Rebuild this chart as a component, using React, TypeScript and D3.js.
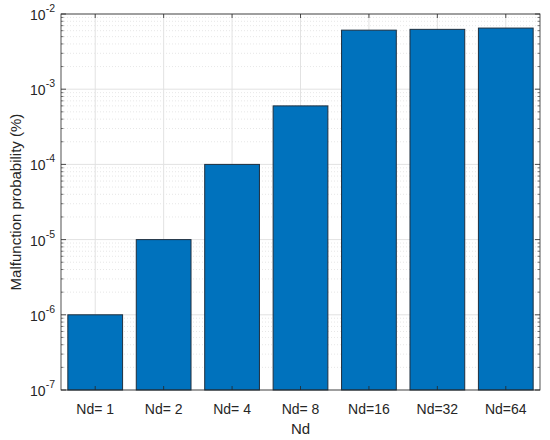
import React from "react";
import * as d3 from "d3";

const categories = ["Nd= 1", "Nd= 2", "Nd= 4", "Nd= 8", "Nd=16", "Nd=32", "Nd=64"];
const values = [1e-6, 1e-5, 1e-4, 6e-4, 6.1e-3, 6.25e-3, 6.5e-3];
const yDecades = [-7, -6, -5, -4, -3, -2];
const yLabel = "Malfunction probability (%)";
const xLabel = "Nd";

const W = 550, H = 440;
const M = { left: 61, top: 14, right: 10, bottom: 50 };
const x0 = M.left, x1 = W - M.right, y0 = H - M.bottom, y1 = M.top;

export default function App() {
  const x = d3.scaleBand<string>().domain(categories).range([x0, x1]).paddingInner(0).paddingOuter(0);
  const y = d3.scaleLog().domain([1e-7, 1e-2]).range([y0, y1]);
  const bw = x.bandwidth() * 0.8;
  const minor: number[] = [];
  for (let d = -7; d < -2; d++) for (let k = 2; k <= 9; k++) minor.push(k * Math.pow(10, d));
  const font = "'Liberation Sans', Arial, Helvetica, sans-serif";
  const axisColor = "#262626";
  return (
    <svg width={W} height={H} style={{ position: "absolute", left: 0, top: 0, background: "#fff" }} fontFamily={font}>
      <rect x={x0} y={y1} width={x1 - x0} height={y0 - y1} fill="#fff" />
      {minor.map((v, i) => (
        <line key={"mg" + i} x1={x0} x2={x1} y1={y(v)} y2={y(v)} stroke="#dcdcdc" strokeWidth={0.7} strokeDasharray="1,2" />
      ))}
      {yDecades.map((d) => (
        <line key={"yg" + d} x1={x0} x2={x1} y1={y(Math.pow(10, d))} y2={y(Math.pow(10, d))} stroke="#e2e2e2" strokeWidth={1} />
      ))}
      {categories.map((c) => {
        const cx = (x(c) as number) + x.bandwidth() / 2;
        return <line key={"xg" + c} x1={cx} x2={cx} y1={y0} y2={y1} stroke="#e2e2e2" strokeWidth={1} />;
      })}
      {categories.map((c, i) => {
        const cx = (x(c) as number) + x.bandwidth() / 2;
        return (
          <rect key={"b" + c} x={cx - bw / 2} y={y(values[i])} width={bw} height={y0 - y(values[i])} fill="#0072BD" stroke="#1f2f3f" strokeWidth={1} />
        );
      })}
      {categories.map((c) => {
        const cx = (x(c) as number) + x.bandwidth() / 2;
        return (
          <g key={"xt" + c}>
            <line x1={cx} x2={cx} y1={y0} y2={y0 - 4} stroke={axisColor} strokeWidth={0.8} />
            <line x1={cx} x2={cx} y1={y1} y2={y1 + 4} stroke={axisColor} strokeWidth={0.8} />
            <text x={cx} y={y0 + 24} textAnchor="middle" fontSize={14} fill={axisColor}>{c}</text>
          </g>
        );
      })}
      {minor.map((v, i) => (
        <g key={"myt" + i}>
          <line x1={x0} x2={x0 + 2.5} y1={y(v)} y2={y(v)} stroke={axisColor} strokeWidth={0.6} />
          <line x1={x1} x2={x1 - 2.5} y1={y(v)} y2={y(v)} stroke={axisColor} strokeWidth={0.6} />
        </g>
      ))}
      {yDecades.map((d) => {
        const yy = y(Math.pow(10, d));
        return (
          <g key={"yt" + d}>
            <line x1={x0} x2={x0 + 5} y1={yy} y2={yy} stroke={axisColor} strokeWidth={0.8} />
            <line x1={x1} x2={x1 - 5} y1={yy} y2={yy} stroke={axisColor} strokeWidth={0.8} />
            <text x={x0 - 6} y={yy + 6} textAnchor="end" fontSize={14} fill={axisColor}>
              10<tspan dy={-8} fontSize={10.5}>{String(d)}</tspan>
            </text>
          </g>
        );
      })}
      <rect x={x0} y={y1} width={x1 - x0} height={y0 - y1} fill="none" stroke={axisColor} strokeWidth={0.8} />
      <text x={(x0 + x1) / 2} y={H - 6} textAnchor="middle" fontSize={15} fill={axisColor}>{xLabel}</text>
      <text transform={`translate(21,${(y0 + y1) / 2}) rotate(-90)`} textAnchor="middle" fontSize={15} fill={axisColor}>{yLabel}</text>
    </svg>
  );
}
